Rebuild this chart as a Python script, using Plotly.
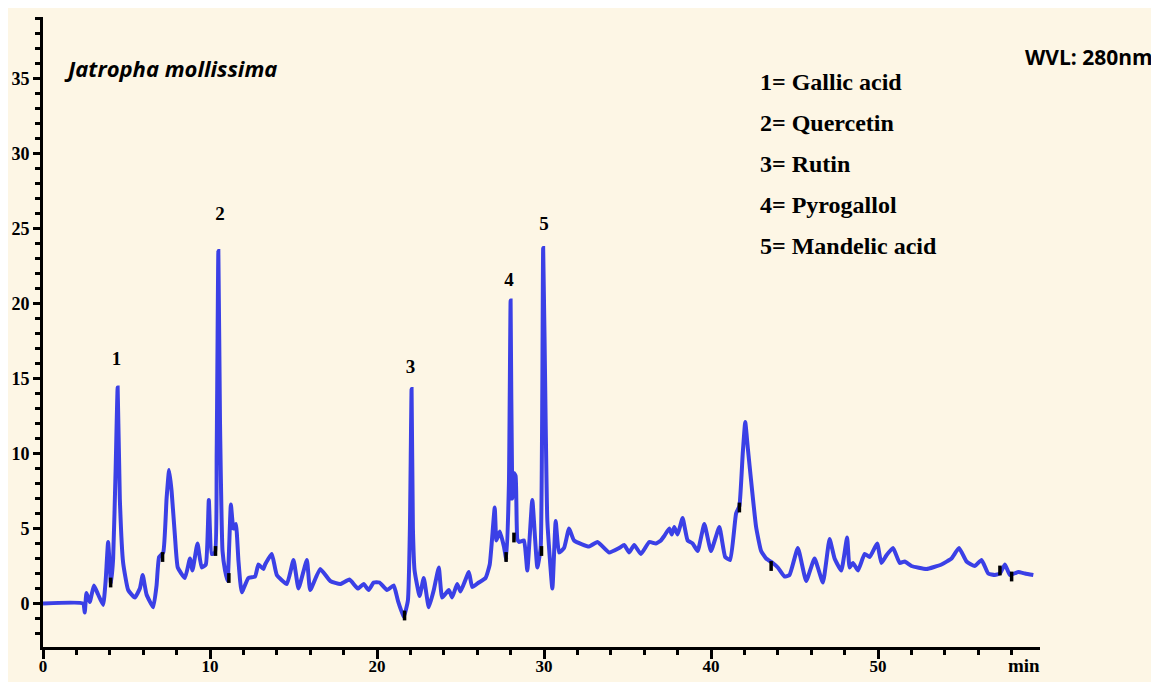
import plotly.graph_objects as go

# Retention time (min) and detector response
time_min = [
    0, 2.4, 2.5, 2.6, 2.8, 3.05, 3.3, 3.6, 3.75, 3.9,
    4.07, 4.2, 4.35, 4.47, 4.6, 4.8, 5.1, 5.5, 5.8, 5.97,
    6.2, 6.6, 6.8, 6.95, 7.2, 7.4, 7.55, 7.7, 7.9, 8.07,
    8.5, 8.8, 8.95, 9.25, 9.5, 9.75, 9.93, 10.1, 10.3, 10.4,
    10.5, 10.6, 10.75, 10.9, 11.05, 11.25, 11.4, 11.55, 11.7, 11.9,
    12.3, 12.7, 12.9, 13.2, 13.3, 13.7, 14.0, 14.6, 15.0, 15.3,
    15.8, 16.0, 16.6, 17.2, 17.8, 18.35, 18.85, 19.2, 19.5, 19.8,
    20.15, 20.6, 21.0, 21.25, 21.6, 21.85, 21.97, 22.07, 22.15, 22.25,
    22.55, 22.8, 23.1, 23.4, 23.7, 23.9, 24.3, 24.5, 24.8, 25.0,
    25.5, 25.7, 26.1, 26.5, 26.75, 27.05, 27.15, 27.35, 27.6, 27.75,
    27.9, 28.0, 28.1, 28.2, 28.3, 28.4, 28.5, 28.8, 29.0, 29.3,
    29.6, 29.8, 29.95, 30.1, 30.2, 30.5, 30.7, 30.9, 31.2, 31.5,
    31.8, 32.7, 33.2, 33.9, 34.5, 34.8, 35.1, 35.4, 35.8, 36.3,
    36.7, 37.0, 37.2, 37.5, 37.65, 37.8, 38.0, 38.3, 38.6, 38.9,
    39.2, 39.6, 40.0, 40.5, 40.85, 41.15, 41.5, 41.7, 41.9, 42.05,
    42.2, 42.4, 42.7, 43.0, 43.3, 43.7, 44.0, 44.4, 44.7, 45.2,
    45.7, 46.2, 46.7, 47.1, 47.4, 47.8, 48.15, 48.3, 48.5, 48.8,
    49.2, 49.5, 49.95, 50.2, 50.5, 50.9, 51.3, 51.6, 52.0, 52.9,
    53.8, 54.4, 54.85, 55.3, 55.8, 56.2, 56.6, 57.0, 57.3, 57.6,
    57.9, 58.4, 58.8, 59.3,
]
response = [
    0, 0, -0.6, 0.7, 0.1, 1.2, 0.6, -0.1, 1.5, 4.1,
    1.3, 3.0, 9.0, 14.4, 7.0, 2.7, 0.9, 0.4, 1.0, 1.9,
    0.6, -0.25, 1.2, 3.1, 3.4, 7.0, 8.9, 7.5, 4.5, 2.4,
    1.7, 3.0, 2.2, 4.0, 2.4, 2.6, 6.9, 3.3, 3.4, 10.0,
    23.5, 12.0, 3.5, 2.2, 1.5, 6.6, 5.0, 5.3, 2.9, 0.75,
    1.7, 1.8, 2.6, 2.3, 2.6, 3.3, 1.9, 1.3, 2.9, 1.0,
    2.9, 0.9, 2.3, 1.5, 1.3, 1.6, 1.0, 1.3, 0.9, 1.4,
    1.4, 0.9, 1.2, 0.2, -0.9, 0.2, 5.0, 14.3, 5.0, 2.2,
    0.5, 1.7, -0.25, 0.9, 2.4, 0.4, 0.9, 0.4, 1.3, 0.8,
    2.1, 1.1, 1.4, 1.7, 2.6, 6.4, 4.2, 4.8, 3.8, 2.9,
    8.0, 20.2, 7.0, 8.7, 8.5, 4.3, 4.1, 4.2, 2.2, 6.9,
    2.4, 3.7, 23.7, 12.0, 5.5, 1.0, 5.5, 3.4, 3.7, 5.0,
    4.2, 3.8, 4.1, 3.4, 3.7, 3.9, 3.4, 3.9, 3.3, 4.1,
    4.0, 4.2, 4.5, 5.0, 4.6, 5.1, 4.6, 5.7, 4.2, 4.0,
    3.5, 5.3, 3.5, 5.1, 3.1, 2.9, 6.0, 6.5, 10.0, 12.1,
    10.4, 8.2, 5.1, 3.5, 3.0, 2.7, 2.4, 1.8, 1.9, 3.7,
    1.5, 3.0, 1.4, 4.3, 3.0, 2.2, 4.4, 2.4, 2.7, 2.2,
    3.3, 3.1, 4.0, 2.7, 3.2, 3.7, 2.7, 2.8, 2.5, 2.3,
    2.6, 3.0, 3.7, 2.8, 2.5, 2.9, 2.0, 1.9, 2.0, 2.6,
    1.9, 2.1, 2.0, 1.9,
]
assert len(time_min) == len(response)

# Integration markers (peak start/end)
marker_time = [4.05, 7.16, 10.33, 11.13, 21.65, 27.73, 28.2, 29.85, 41.7, 43.6, 57.3, 58.0]
marker_resp = [1.4, 3.1, 3.5, 1.7, -0.8, 3.1, 4.4, 3.5, 6.4, 2.5, 2.2, 1.8]

# Peak numbers
peak_labels = ["1", "2", "3", "4", "5"]
peak_time = [4.4, 10.6, 22.0, 27.9, 30.0]
peak_label_y = [16.2, 25.9, 15.7, 21.5, 25.2]

compounds = ["1= Gallic acid", "2= Quercetin", "3= Rutin", "4= Pyrogallol", "5= Mandelic acid"]
title_text = "Jatropha mollissima"
wvl_text = "WVL: 280nm"

CREAM = "#FDF6E5"
BLUE = "#3B40E6"

# the page has an 8px body margin (white) at top/left
OFF = 8
W, H = 1159 - OFF, 682 - OFF
# plot area in screen pixels
PL, PR, PT, PB = 43, 1040, 17, 647
L, R, T, B = PL - OFF, (W + OFF) - PR, PT - OFF, (H + OFF) - PB
pw, ph = PR - PL, PB - PT


def px_x(px):
    return (px - PL) / pw


def px_y(py):
    return (PB - py) / ph


fig = go.Figure()
fig.add_trace(go.Scatter(
    x=time_min, y=response, mode="lines",
    line=dict(color=BLUE, width=4, shape="spline", smoothing=0.4),
    hoverinfo="skip", showlegend=False,
))
fig.add_trace(go.Scatter(
    x=marker_time, y=marker_resp, mode="markers",
    marker=dict(symbol="line-ns", size=7, line=dict(color="black", width=3.5)),
    hoverinfo="skip", showlegend=False,
))
fig.add_trace(go.Scatter(
    x=peak_time, y=peak_label_y, mode="text", text=peak_labels,
    textfont=dict(family="Liberation Serif", size=19, color="black", weight="bold"),
    hoverinfo="skip", showlegend=False,
))

annotations = [
    dict(text="<i>" + title_text + "</i>", x=px_x(62), y=px_y(68), xref="paper", yref="paper",
         xanchor="left", yanchor="middle", showarrow=False,
         font=dict(family="Open Sans", size=22, color="black", weight="bold")),
    dict(text=wvl_text, x=px_x(1155), y=px_y(57), xref="paper", yref="paper",
         xanchor="right", yanchor="middle", showarrow=False,
         font=dict(family="Open Sans", size=21, color="black", weight="bold")),
    dict(text="min", x=px_x(1024), y=px_y(666), xref="paper", yref="paper",
         xanchor="center", yanchor="middle", showarrow=False,
         font=dict(family="Liberation Serif", size=19, color="black", weight="bold")),
]
for i, c in enumerate(compounds):
    annotations.append(dict(
        text=c, x=px_x(758), y=px_y(82 + i * 41), xref="paper", yref="paper",
        xanchor="left", yanchor="middle", showarrow=False,
        font=dict(family="Liberation Serif", size=24, color="black", weight="bold"),
    ))

tickfont = dict(family="Liberation Serif", size=18, color="black", weight="bold")
fig.update_layout(
    width=W, height=H,
    margin=dict(l=L, r=R, t=T, b=B, pad=0, autoexpand=False),
    paper_bgcolor=CREAM, plot_bgcolor=CREAM,
    showlegend=False,
    annotations=annotations,
    xaxis=dict(
        range=[0, 59.7], dtick=10, tick0=0, showgrid=False, zeroline=False,
        automargin=False,
        showline=True, linecolor="black", linewidth=3,
        ticks="outside", ticklen=9, tickwidth=2.5, tickcolor="black",
        tickfont=dict(family="Liberation Serif", size=17, color="black", weight="bold"),
        ticklabelstandoff=-7,
        minor=dict(dtick=2, ticks="outside", ticklen=5, tickwidth=2.5, tickcolor="black", showgrid=False),
    ),
    yaxis=dict(
        range=[-2.9, 39.1], dtick=5, tick0=0, showgrid=False, zeroline=False,
        automargin=False,
        showline=True, linecolor="black", linewidth=3,
        ticks="outside", ticklen=7, tickwidth=2.5, tickcolor="black",
        tickfont=tickfont,
        minor=dict(dtick=1, ticks="outside", ticklen=5, tickwidth=2.5, tickcolor="black", showgrid=False),
    ),
)

fig.write_html("out.html")
